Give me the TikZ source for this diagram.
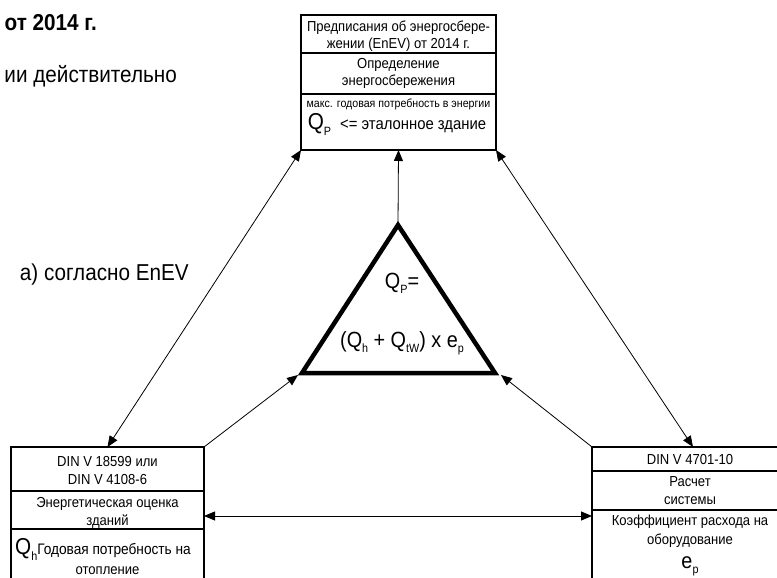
\documentclass[tikz,border=0pt]{standalone}
\usepackage{fontspec}
\setmainfont{Liberation Sans}[FakeStretch=0.9]
\usetikzlibrary{arrows.meta}
\newcommand\bigQfont{\fontsize{23}{24}\selectfont}
\newcommand\mysubsc[1]{\raisebox{-0.5ex}{\fontsize{12}{12}\selectfont #1}}
\begin{document}
\begin{tikzpicture}[x=1pt,y=-1pt,
  >={Triangle[length=11pt,width=9pt]},
  box/.style={draw, line width=1.8pt, anchor=north west, inner sep=0pt, outer sep=0pt},
  divline/.style={line width=1.3pt},
  txt/.style={font=\fontsize{14.5}{18}\selectfont, inner sep=0pt, anchor=base},
  small/.style={font=\fontsize{11.8}{12}\selectfont, inner sep=0pt, anchor=base},
  big/.style={font=\fontsize{22}{24}\selectfont, inner sep=0pt, anchor=base},
  side/.style={font=\fontsize{23}{26}\selectfont, inner sep=0pt, anchor=base east},
  conn/.style={line width=0.8pt},
  tri/.style={line width=4.5pt, line join=miter}
]
\useasboundingbox (0,0) rectangle (777,578);
\clip (0,0) rectangle (777,578);

% side texts (cut at left border)
\node[side, font=\fontsize{23}{26}\selectfont\bfseries] (s1) at (97,31) {от 2014 г.};
\node[side] (s2) at (177,83) {ии действительно};
\node[side] (s3) at (189,280) {а) согласно EnEV};

% boxes
\node[box, minimum width=195pt, minimum height=135pt] (top) at (301,15) {};
\node[box, minimum width=193pt, minimum height=170pt] (bl) at (11,447) {};
\node[box, minimum width=196pt, minimum height=170pt] (br) at (592,447) {};

% dividers
\draw[divline] (301,53) -- (496,53);
\draw[divline] (301,94) -- (496,94);
\draw[divline] (11,491) -- (204,491);
\draw[divline] (11,529) -- (204,529);
\draw[divline] (592,471) -- (788,471);
\draw[divline] (592,510) -- (788,510);

% top box texts
\node[txt] (t1) at (398.5,32) {Предписания об энергосбере-};
\node[txt] (t2) at (398.5,49) {жении (EnEV) от 2014 г.};
\node[txt] (t3) at (398.5,69) {Определение};
\node[txt] (t4) at (398.5,86) {энергосбережения};
\node[small] (t5) at (398.5,107) {макс. годовая потребность в энергии};
\node[txt, font=\fontsize{16.5}{18}\selectfont] (t6) at (397,129) {{\bigQfont Q\mysubsc{P}}\hspace{9pt}<= эталонное здание};

% bottom-left texts
\node[txt] (l1) at (107.5,466) {DIN V 18599 или};
\node[txt] (l2) at (107.5,484) {DIN V 4108-6};
\node[txt] (l3) at (107.5,507) {Энергетическая оценка};
\node[txt] (l4) at (107.5,525) {зданий};
\node[txt, font=\fontsize{15.2}{18}\selectfont] (l5) at (103,554) {{\bigQfont Q\mysubsc{h}}Годовая потребность на};
\node[txt] (l6) at (107.5,574) {отопление};

% bottom-right texts
\node[txt] (r1) at (690,464) {DIN V 4701-10};
\node[txt] (r2) at (690,486) {Расчет};
\node[txt] (r3) at (690,504) {системы};
\node[txt] (r4) at (690,525) {Коэффициент расхода на};
\node[txt] (r5) at (690,544) {оборудование};
\node[big] (r6) at (690,568) {e\mysubsc{p}};

% triangle
\coordinate (ta) at (398,225);
\coordinate (tl) at (302,373);
\coordinate (tr) at (495,373);
\draw[tri] (ta) -- (tl) -- (tr) -- cycle;
\node[big] (f1) at (402,288) {Q\mysubsc{P}=};
\node[big] (f2) at (402,347) {(Q\mysubsc{h} + Q\mysubsc{tW}) x e\mysubsc{p}};

% connectors
\coordinate (hy) at (0,516);
\draw[conn,<->] (top.south west) -- (bl.north);
\draw[conn,<->] (top.south east) -- ([xshift=3pt]br.north);
\draw[conn,->] (ta) -- (top.south);
\draw[conn,->] (bl.north east) -- ([xshift=-4pt,yshift=-2pt]tl);
\draw[conn,->] (br.north west) -- ([xshift=6pt,yshift=-2pt]tr);
\draw[conn,<->] (bl.east |- hy) -- (br.west |- hy);
\end{tikzpicture}
\end{document}
